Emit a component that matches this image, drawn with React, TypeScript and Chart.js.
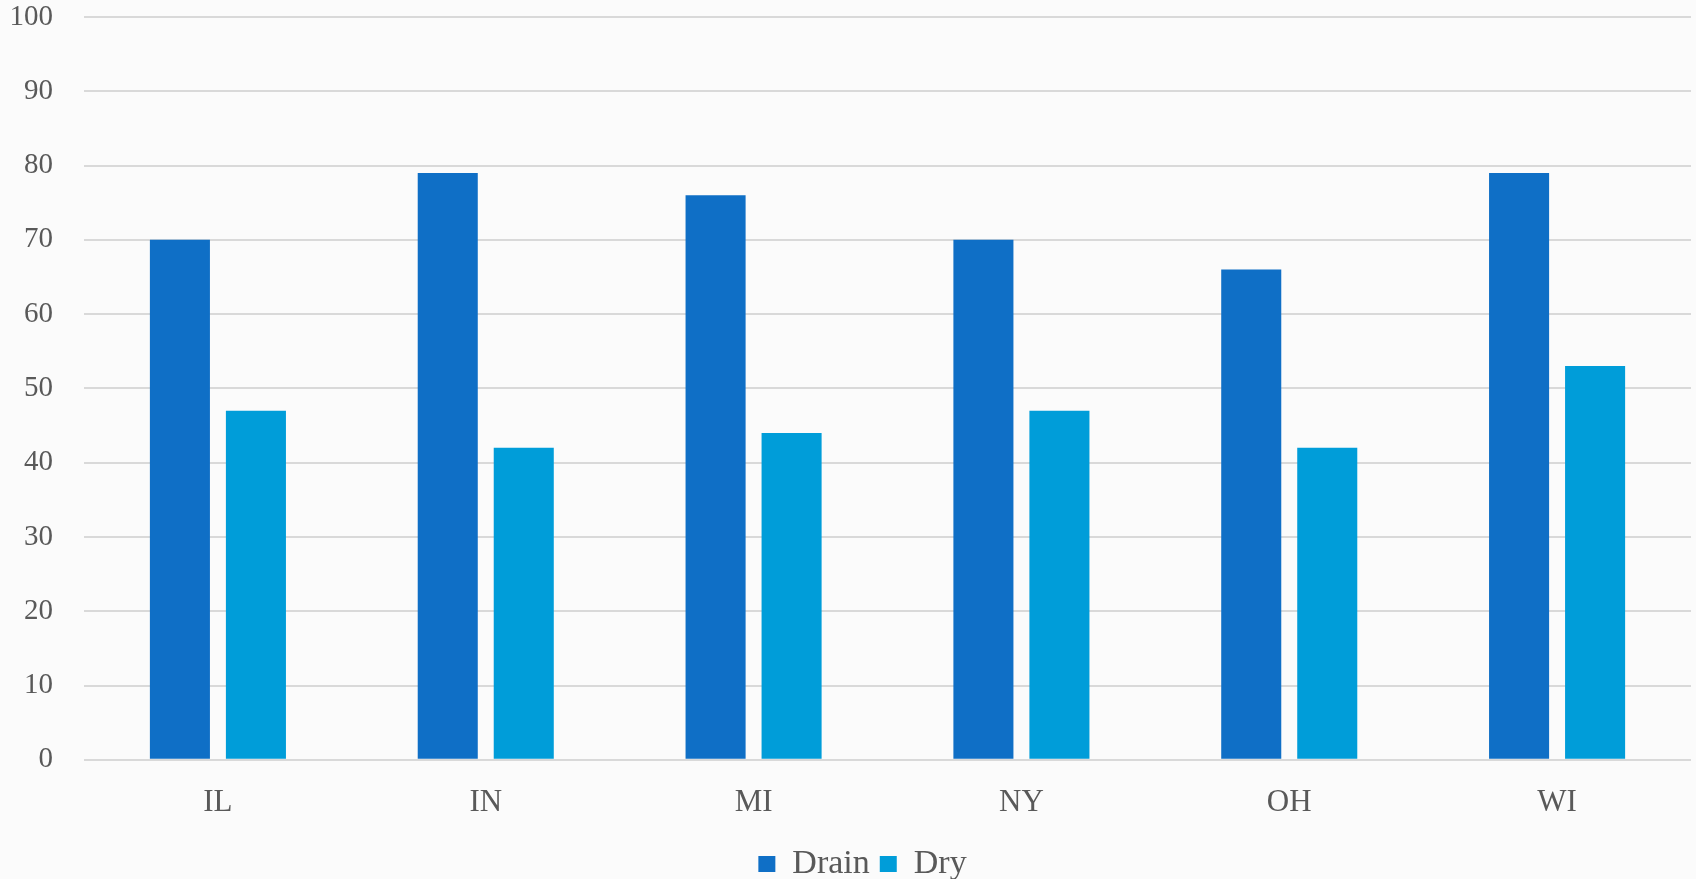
import React, { useEffect, useRef } from "react";
import { Chart, registerables } from "chart.js";

Chart.register(...registerables);

const categories = ["IL", "IN", "MI", "NY", "OH", "WI"];
const drainValues = [70, 79, 76, 70, 66, 79];
const dryValues = [47, 42, 44, 47, 42, 53];
const seriesNames = ["Drain", "Dry"];
const seriesColors = ["#0F6FC6", "#009DD9"];

const FONT = "'Liberation Serif', 'DejaVu Serif', serif";

const bgPlugin = {
  id: "bg",
  beforeDraw(chart: any) {
    const ctx = chart.ctx;
    ctx.save();
    ctx.fillStyle = "#FBFBFB";
    ctx.fillRect(0, 0, chart.width, chart.height);
    ctx.restore();
  },
  afterLayout(chart: any) {
    const lg = chart.legend;
    if (lg) {
      lg.left += 17;
      lg.right += 17;
    }
  },
};

export default function App() {
  const ref = useRef<HTMLCanvasElement | null>(null);
  useEffect(() => {
    document.body.style.margin = "0";
    const chart = new Chart(ref.current as HTMLCanvasElement, {
      type: "bar",
      data: {
        labels: categories,
        datasets: [
          {
            label: seriesNames[0],
            data: drainValues,
            backgroundColor: seriesColors[0],
            borderWidth: 0,
          },
          {
            label: seriesNames[1],
            data: dryValues,
            backgroundColor: seriesColors[1],
            borderWidth: 0,
          },
        ],
      },
      options: {
        animation: false,
        responsive: false,
        maintainAspectRatio: false,
        datasets: {
          bar: { categoryPercentage: 0.5676, barPercentage: 0.79 },
        },
        layout: { padding: { top: 17, right: 5, left: 0, bottom: -12 } },
        plugins: {
          tooltip: { enabled: false },
          legend: {
            position: "bottom",
            labels: {
              color: "#595959",
              font: { family: FONT, size: 34 },
              boxWidth: 17,
              boxHeight: 16,
              padding: 10,
            },
          },
        },
        scales: {
          x: {
            grid: { display: false },
            border: { display: false },
            ticks: {
              color: "#595959",
              font: { family: FONT, size: 31 },
              padding: 16,
            },
          },
          y: {
            min: 0,
            max: 100,
            afterFit(scale: any) {
              scale.width = 84;
              scale.paddingTop = 0;
              scale.paddingBottom = 0;
            },
            grid: { color: "#D9D9D9", lineWidth: 2, drawTicks: false },
            border: { display: false },
            ticks: {
              stepSize: 10,
              color: "#595959",
              font: { family: FONT, size: 29 },
              padding: 31,
            },
          },
        },
      },
      plugins: [bgPlugin],
    });
    return () => chart.destroy();
  }, []);
  return <canvas ref={ref} width={1696} height={879} style={{ display: "block" }} />;
}
